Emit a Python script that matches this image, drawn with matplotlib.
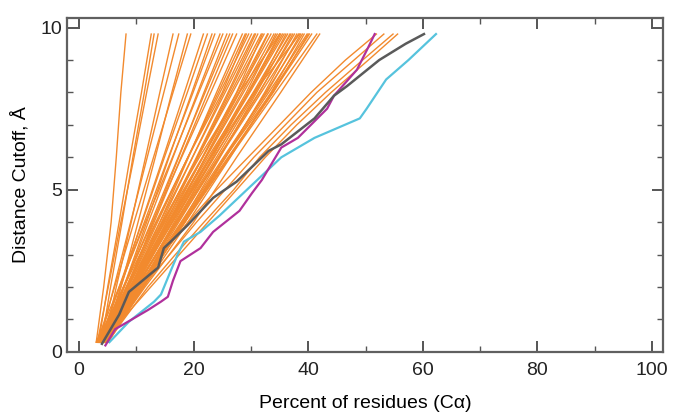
import matplotlib
matplotlib.use('Agg')
import matplotlib.pyplot as plt
from matplotlib.ticker import MultipleLocator

# distance cutoffs (A) at which the orange curves were read
cut_levels = [0.3, 2.0, 4.0, 6.0, 8.0, 9.8]

# percent of residues for each orange curve at cut_levels
orange_curves = [
    [3.0, 4.3, 5.6, 6.5, 7.3, 8.2],
    [3.4, 5.0, 7.0, 8.9, 10.9, 12.6],
    [3.9, 5.5, 7.5, 9.4, 11.4, 13.1],
    [3.2, 5.1, 7.3, 9.6, 11.8, 13.8],
    [4.4, 6.5, 9.1, 11.6, 14.1, 16.4],
    [3.6, 6.1, 9.0, 11.9, 14.8, 17.4],
    [4.8, 7.3, 10.3, 13.3, 16.2, 18.9],
    [3.3, 6.2, 9.6, 13.0, 16.4, 19.5],
    [4.1, 7.3, 10.9, 14.7, 18.4, 21.7],
    [3.7, 7.0, 11.0, 14.9, 18.9, 22.4],
    [4.5, 7.8, 11.8, 15.7, 19.7, 23.2],
    [3.5, 7.1, 11.4, 15.6, 19.9, 23.7],
    [4.2, 7.9, 12.1, 16.4, 20.7, 24.6],
    [3.0, 7.0, 11.6, 16.3, 20.9, 25.1],
    [4.7, 8.5, 12.9, 17.4, 21.8, 25.8],
    [3.8, 7.8, 12.6, 17.3, 22.0, 26.3],
    [4.3, 8.3, 13.1, 17.8, 22.5, 26.8],
    [3.4, 7.7, 12.8, 17.9, 23.0, 27.5],
    [4.9, 9.1, 14.1, 19.1, 24.0, 28.5],
    [3.9, 8.4, 13.7, 19.0, 24.3, 29.0],
    [3.1, 7.8, 13.4, 19.0, 24.6, 29.6],
    [4.4, 9.0, 14.4, 19.8, 25.2, 30.1],
    [3.6, 8.4, 14.1, 19.8, 25.5, 30.6],
    [5.0, 9.7, 15.2, 20.7, 26.2, 31.2],
    [4.0, 9.0, 14.8, 20.7, 26.5, 31.8],
    [3.3, 8.5, 14.6, 20.7, 26.8, 32.3],
    [4.6, 9.7, 15.6, 21.6, 27.6, 32.9],
    [3.7, 9.0, 15.3, 21.6, 27.9, 33.5],
    [4.2, 9.5, 15.8, 22.1, 28.4, 34.0],
    [3.5, 9.1, 15.6, 22.2, 28.7, 34.6],
    [4.8, 10.2, 16.6, 23.0, 29.5, 35.2],
    [3.9, 9.6, 16.3, 23.0, 29.8, 35.8],
    [4.4, 10.1, 16.8, 23.6, 30.4, 36.4],
    [3.2, 9.3, 16.3, 23.5, 30.6, 37.0],
    [4.6, 10.5, 17.4, 24.4, 31.4, 37.6],
    [3.8, 10.0, 17.2, 24.5, 31.8, 38.3],
    [5.1, 11.2, 18.3, 25.4, 32.6, 39.0],
    [4.1, 10.5, 18.0, 25.5, 33.1, 39.8],
    [4.5, 11.0, 18.5, 26.2, 33.8, 40.6],
    [3.6, 10.4, 18.3, 26.3, 34.3, 41.5],
    [4.0, 10.5, 18.5, 25.5, 33.6, 40.2],
    [4.7, 11.5, 20.0, 27.5, 35.2, 42.0],
    [3.5, 8.8, 15.0, 21.5, 27.5, 32.0],
    [4.2, 9.8, 16.2, 22.0, 28.0, 33.0],
    [3.8, 9.2, 15.8, 22.8, 29.2, 34.3],
    [4.6, 10.6, 17.0, 23.3, 29.5, 35.0],
    [3.3, 9.0, 15.5, 22.5, 29.6, 35.5],
    [4.0, 10.0, 16.9, 24.0, 30.8, 36.1],
    [4.8, 10.9, 18.0, 24.6, 31.0, 36.8],
    [3.6, 9.8, 17.0, 24.3, 31.5, 37.3],
    [4.3, 10.8, 18.4, 25.6, 32.4, 38.0],
    [3.9, 10.3, 17.8, 25.2, 32.8, 38.7],
    [4.5, 11.3, 19.0, 26.4, 33.5, 39.3],
    [3.4, 10.2, 18.2, 26.0, 33.9, 40.0],
    [4.1, 9.5, 16.0, 23.0, 30.5, 38.5],
    [3.7, 8.6, 14.5, 21.0, 28.0, 35.0],
    [4.4, 9.0, 14.8, 20.5, 26.0, 30.8],
    [3.9, 8.2, 13.5, 19.0, 25.0, 29.2],
]

# the slower orange curves that run beside the grey one
slow_levels = [0.3, 1.0, 2.0, 3.0, 4.0, 5.0, 6.0, 7.0, 8.0, 9.0, 9.8]
slow_curves = [
    [4.2, 6.5, 10.0, 14.5, 19.0, 24.0, 29.5, 35.0, 40.5, 46.5, 51.9],
    [4.8, 7.2, 11.0, 15.8, 20.5, 25.5, 30.5, 36.0, 41.5, 48.0, 53.2],
    [5.0, 7.8, 12.0, 16.8, 21.8, 27.0, 31.5, 37.0, 43.0, 49.5, 54.8],
    [4.5, 7.5, 12.5, 17.5, 22.5, 27.5, 32.5, 38.0, 44.0, 50.5, 55.6],
]

grey_x = [4.0, 7.0, 8.7, 10.4, 13.8, 14.8, 16.0, 18.9, 23.4, 27.5, 33.1, 35.3,
          41.1, 44.5, 46.8, 52.4, 57.0, 60.2]
grey_y = [0.25, 1.15, 1.85, 2.1, 2.6, 3.2, 3.4, 3.9, 4.75, 5.25, 6.2, 6.4,
          7.2, 7.9, 8.2, 9.0, 9.5, 9.8]

magenta_x = [4.6, 6.3, 9.2, 12.1, 14.3, 15.5, 16.4, 17.7, 21.2, 23.4, 28.0,
             30.2, 31.9, 35.3, 38.2, 43.3, 44.5, 48.5, 50.5, 51.6]
magenta_y = [0.2, 0.7, 1.0, 1.3, 1.55, 1.7, 2.2, 2.8, 3.2, 3.7, 4.35,
             4.9, 5.3, 6.3, 6.6, 7.5, 7.9, 8.7, 9.4, 9.8]

cyan_x = [5.3, 8.7, 13.1, 14.3, 16.0, 17.2, 18.3, 21.2, 24.5, 27.5, 30.5,
          35.3, 41.1, 49.0, 50.2, 53.6, 57.5, 62.3]
cyan_y = [0.3, 0.93, 1.55, 1.77, 2.5, 3.0, 3.4, 3.7, 4.2, 4.7, 5.2,
          6.0, 6.6, 7.2, 7.5, 8.4, 9.0, 9.8]

plt.rcParams['font.family'] = ['Liberation Sans', 'DejaVu Sans']
plt.rcParams['font.size'] = 14

fig = plt.figure(figsize=(6.81, 4.15), dpi=100)
ax = fig.add_axes([0.0984, 0.152, 0.875, 0.805])

orange = '#F28A2E'
for xs in orange_curves:
    ax.plot(xs, cut_levels, color=orange, lw=1.0)
for xs in slow_curves:
    ax.plot(xs, slow_levels, color=orange, lw=1.0)

ax.plot(cyan_x, cyan_y, color='#56C3DD', lw=1.6)
ax.plot(magenta_x, magenta_y, color='#B0309C', lw=1.6)
ax.plot(grey_x, grey_y, color='#5A5A5A', lw=1.8)

ax.set_xlim(-2.1, 101.9)
ax.set_ylim(0, 10.3)
ax.xaxis.set_major_locator(MultipleLocator(20))
ax.xaxis.set_minor_locator(MultipleLocator(10))
ax.yaxis.set_major_locator(MultipleLocator(5))
ax.yaxis.set_minor_locator(MultipleLocator(1))
ax.tick_params(which='both', direction='in', top=True, right=True,
               colors='#555555', labelcolor='#222222')
ax.tick_params(which='major', length=8, width=1.4, labelsize=14)
ax.tick_params(which='minor', length=4, width=1.0)
ax.tick_params(axis='x', pad=7)
for s in ax.spines.values():
    s.set_color('#606060')
    s.set_linewidth(1.6)

ax.set_xlabel('Percent of residues (C\u03b1)', fontsize=14, labelpad=12)
ax.set_ylabel('Distance Cutoff, \u00c5', fontsize=14, labelpad=8)

fig.savefig('out.png', dpi=100)
